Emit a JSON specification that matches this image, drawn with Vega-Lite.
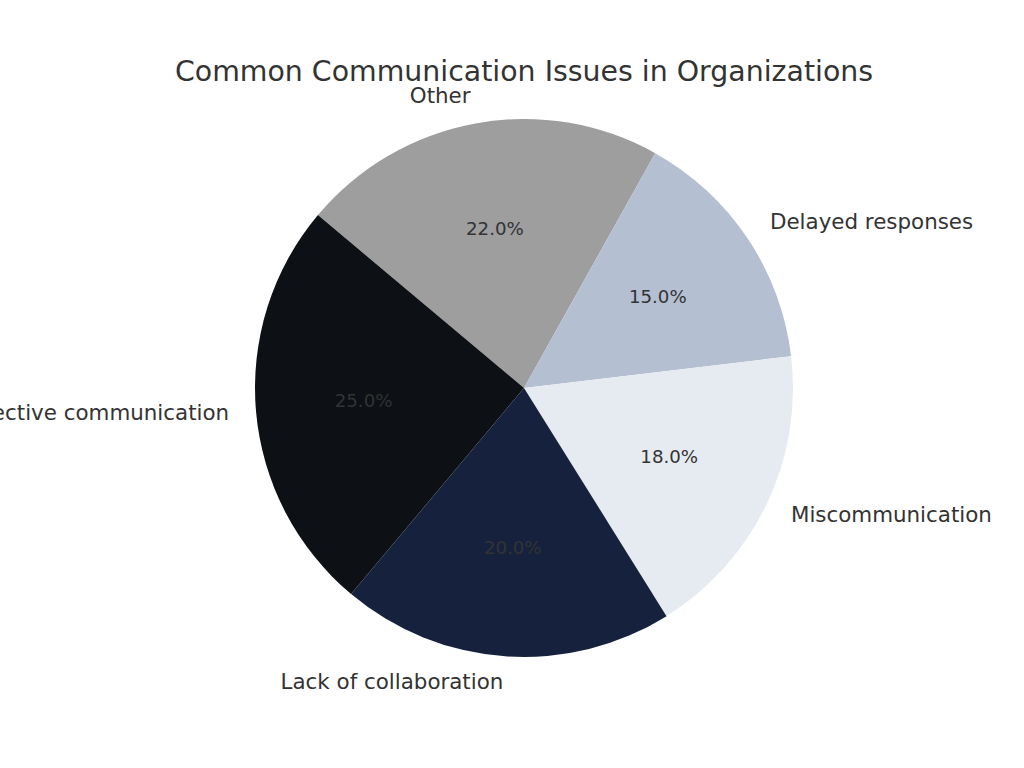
{
  "$schema": "https://vega.github.io/schema/vega-lite/v6.json",
  "width": 1000,
  "height": 760,
  "autosize": {"type": "none"},
  "padding": {"left": 24, "top": 8, "right": 0, "bottom": 0},
  "background": "white",
  "config": {"view": {"stroke": null}},
  "title": {
    "text": "Common Communication Issues in Organizations",
    "font": "DejaVu Sans",
    "fontSize": 28.4,
    "fontWeight": "normal",
    "color": "#333333",
    "anchor": "middle",
    "baseline": "alphabetic",
    "offset": -101
  },
  "data": {
    "values": [
      {"issue": "Other", "share": 0.22, "order": 1},
      {"issue": "Delayed responses", "share": 0.15, "order": 2},
      {"issue": "Miscommunication", "share": 0.18, "order": 3},
      {"issue": "Lack of collaboration", "share": 0.20, "order": 4},
      {"issue": "Ineffective communication", "share": 0.25, "order": 5}
    ]
  },
  "encoding": {
    "theta": {"field": "share", "type": "quantitative", "stack": true, "scale": {"range": [-0.872665, 5.410521]}},
    "order": {"field": "order", "type": "quantitative"}
  },
  "layer": [
    {
      "mark": {"type": "arc", "outerRadius": 269},
      "encoding": {
        "color": {
          "field": "issue",
          "type": "nominal",
          "legend": null,
          "scale": {
            "domain": ["Other", "Delayed responses", "Miscommunication", "Lack of collaboration", "Ineffective communication"],
            "range": ["#9e9e9e", "#b4bfd2", "#e6ebf2", "#16223d", "#0d1015"]
          }
        }
      }
    },
    {
      "mark": {"type": "text", "radius": 161, "font": "DejaVu Sans", "fontSize": 18.2, "color": "#333333", "align": "center", "baseline": "middle"},
      "encoding": {
        "text": {"field": "share", "type": "quantitative", "format": ".1%"}
      }
    },
    {
      "mark": {"type": "text", "radius": 296, "font": "DejaVu Sans", "fontSize": 21.4, "color": "#333333", "align": "left", "baseline": "middle"},
      "encoding": {
        "text": {"field": "issue", "type": "nominal"},
        "opacity": {"condition": {"test": "datum.issue === 'Delayed responses' || datum.issue === 'Miscommunication'", "value": 1}, "value": 0}
      }
    },
    {
      "mark": {"type": "text", "radius": 296, "font": "DejaVu Sans", "fontSize": 21.4, "color": "#333333", "align": "right", "baseline": "middle"},
      "encoding": {
        "text": {"field": "issue", "type": "nominal"},
        "opacity": {"condition": {"test": "datum.issue === 'Delayed responses' || datum.issue === 'Miscommunication'", "value": 0}, "value": 1}
      }
    }
  ]
}
